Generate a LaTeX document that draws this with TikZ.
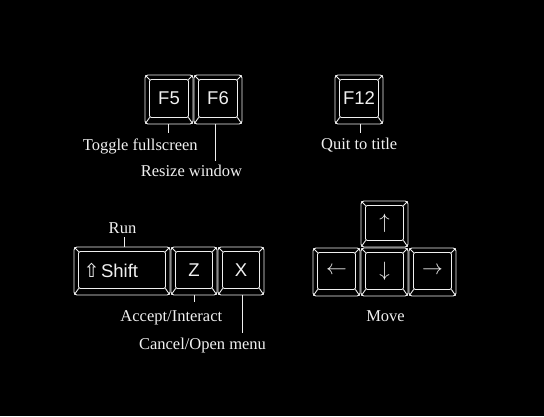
\documentclass[tikz,border=0pt]{standalone}
\usepackage{fontspec}
\setmainfont{Liberation Serif}
\newfontfamily\keyfont{Liberation Sans}
\newfontfamily\symfont{DejaVu Sans}
\usetikzlibrary{fit,calc}
\definecolor{keycol}{RGB}{240,240,240}
\tikzset{
  keyline/.style={draw=keycol, line width=0.9pt},
  outerkey/.style={keyline, rounded corners=3pt, inner sep=0pt},
  facekey/.style={keyline, rounded corners=2pt, inner sep=0pt},
  keylabel/.style={text=keycol, font=\keyfont\fontsize{18.5}{18.5}\selectfont, inner sep=0pt},
  arrowlabel/.style={text=keycol, font=\fontsize{20}{20}\selectfont, inner sep=0pt},
  caption/.style={text=keycol, font=\fontsize{16.5}{18}\selectfont, anchor=base, inner sep=0pt},
  conn/.style={draw=keycol, line width=0.9pt},
}
\newcommand\keycap[5]{%
  \coordinate (#1-a) at (#2,#3);
  \coordinate (#1-b) at (#4,#5);
  \node[outerkey, fit=(#1-a)(#1-b)] (#1) {};
  \coordinate (#1-c) at ($(#1-a)+(4.5,4.5)$);
  \coordinate (#1-d) at ($(#1-b)+(-4.5,-6.5)$);
  \node[facekey, fit=(#1-c)(#1-d)] (#1f) {};
  \draw[keyline] ($(#1.north west)+(0.9,0.9)$) -- ($(#1f.north west)+(0.6,0.6)$);
  \draw[keyline] ($(#1.north east)+(-0.9,0.9)$) -- ($(#1f.north east)+(-0.6,0.6)$);
  \draw[keyline] ($(#1.south west)+(0.9,-0.9)$) -- ($(#1f.south west)+(0.6,-0.6)$);
  \draw[keyline] ($(#1.south east)+(-0.9,-0.9)$) -- ($(#1f.south east)+(-0.6,-0.6)$);
}
\begin{document}
\begin{tikzpicture}[x=1pt,y=-1pt]
  \fill[black] (0,0) rectangle (544,416);
  \useasboundingbox (0,0) rectangle (544,416);

  % function keys
  \keycap{F5}{145}{75}{193}{124}
  \keycap{F6}{194}{75}{242}{124}
  \keycap{F12}{335}{75}{383}{124}
  \node[keylabel] (F5t) at (F5f) {F5};
  \node[keylabel] (F6t) at (F6f) {F6};
  \node[keylabel] (F12t) at (F12f) {F12};

  % bottom-left keys
  \keycap{Shift}{74}{247}{170}{295}
  \keycap{Z}{171}{247}{217}{295}
  \keycap{X}{218}{247}{264}{295}
  \node[keylabel, anchor=base west] (Shiftt) at (83.5,277.5) {{\symfont\fontsize{19}{19}\selectfont ⇧}\kern1.5pt Shift};
  \node[keylabel] (Zt) at (Zf) {Z};
  \node[keylabel] (Xt) at (Xf) {X};

  % arrow keys
  \keycap{Up}{361}{201}{408}{247}
  \keycap{Left}{313}{248}{360}{296}
  \keycap{Down}{361}{248}{408}{296}
  \keycap{Right}{409}{248}{456}{296}
  \node[arrowlabel] (Upt) at (Upf) {$\uparrow$};
  \node[arrowlabel] (Leftt) at (Leftf) {$\leftarrow$};
  \node[arrowlabel] (Downt) at (Downf) {$\downarrow$};
  \node[arrowlabel] (Rightt) at (Rightf) {$\rightarrow$};

  % captions
  \node[caption] (tog) at (140.3,150.7) {Toggle fullscreen};
  \node[caption] (rsz) at (191.5,176.7) {Resize window};
  \node[caption] (quit) at (359.2,149.3) {Quit to title};
  \node[caption] (run) at (122.5,233) {Run};
  \node[caption] (acc) at (171.3,321) {Accept/Interact};
  \node[caption] (can) at (202.5,349.3) {Cancel/Open menu};
  \node[caption] (move) at (385.5,321.7) {Move};

  % connector end points
  \coordinate (cF5) at (168.7,133);
  \coordinate (cF6) at (215.7,160.7);
  \coordinate (cF12) at (360,132.7);
  \coordinate (cRun) at (124.3,237);
  \coordinate (cZ) at (194,301.7);
  \coordinate (cX) at (242,333.3);

  \draw[conn] (F5.south -| cF5) -- (cF5);
  \draw[conn] (F6.south -| cF6) -- (cF6);
  \draw[conn] (F12.south -| cF12) -- (cF12);
  \draw[conn] (Shift.north -| cRun) -- (cRun);
  \draw[conn] (Z.south -| cZ) -- (cZ);
  \draw[conn] (X.south -| cX) -- (cX);
\end{tikzpicture}
\end{document}
